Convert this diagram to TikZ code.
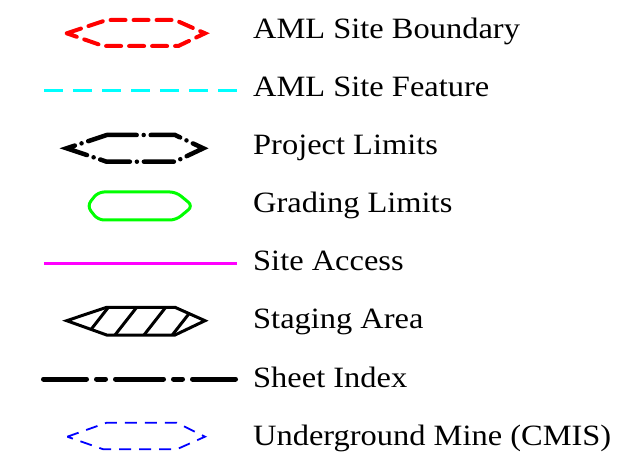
\documentclass[tikz,border=0pt]{standalone}
\usepackage{fontspec}
\setmainfont{Liberation Serif}[FakeStretch=1.1]
\begin{document}
\begin{tikzpicture}[x=1pt,y=-1pt,
  lbl/.style={anchor=base west, inner sep=0pt, font=\fontsize{29.5}{30}\selectfont},
  redb/.style={draw={rgb,255:red,255;green,0;blue,0}, line width=4pt, dash pattern=on 15pt off 8pt, line cap=round},
  cyanl/.style={draw={rgb,255:red,0;green,255;blue,255}, line width=2.5pt, dash pattern=on 19pt off 10pt},
  projl/.style={draw=black, line width=4.5pt, line cap=round, dash pattern=on 30pt off 7pt on 0pt off 7pt},
  gradl/.style={draw={rgb,255:red,0;green,255;blue,0}, line width=3pt, rounded corners=6pt},
  accl/.style={draw={rgb,255:red,255;green,0;blue,255}, line width=3.5pt},
  stagel/.style={draw=black, line width=3pt, line join=miter},
  sheetl/.style={draw=black, line width=5pt, line cap=round, dash pattern=on 43pt off 10pt on 9pt off 10pt on 48pt off 10pt on 9pt off 10pt},
  minel/.style={draw={rgb,255:red,0;green,0;blue,255}, line width=1.8pt, dash pattern=on 12pt off 8pt}]
\useasboundingbox (0,0) rectangle (624,473);
% row 1: AML Site Boundary
\draw[redb] (66.7,33.3) -- (106.7,20) -- (175,20) -- (205,33.3) -- (178.3,46) -- (103.3,46) -- cycle;
\node[lbl] (t1) at (253,38.3) {AML Site Boundary};
% row 2: AML Site Feature
\coordinate (c2a) at (44,90.7);
\coordinate (c2b) at (237,90.7);
\draw[cyanl] (c2a) -- (c2b);
\node[lbl] (t2) at (253,96.4) {AML Site Feature};
% row 3: Project Limits
\draw[projl] (106.7,135) -- (175,135) -- (203.3,148.3) -- (175,161.7) -- (106.7,161.7) -- (66.7,148.3) -- cycle;
\node[lbl] (t3) at (253,154.5) {Project Limits};
% row 4: Grading Limits
\draw[gradl] (87,206) -- (98,192) -- (176,192) -- (193,206) -- (176,220) -- (98,220) -- cycle;
\node[lbl] (t4) at (253,212.6) {Grading Limits};
% row 5: Site Access
\coordinate (c5a) at (44,263.3);
\coordinate (c5b) at (237,263.3);
\draw[accl] (c5a) -- (c5b);
\node[lbl] (t5) at (253,270.7) {Site Access};
% row 6: Staging Area
\begin{scope}
\clip (66.7,320.7) -- (106.7,307.3) -- (175,307.3) -- (205,320.7) -- (175,335) -- (106.7,335) -- cycle;
\foreach \xb in {86.7,115,144,172.3} {
  \draw[black, line width=3pt] (\xb,335) -- ++(21.7,-27.7);
}
\end{scope}
\draw[stagel] (66.7,320.7) -- (106.7,307.3) -- (175,307.3) -- (205,320.7) -- (175,335) -- (106.7,335) -- cycle;
\node[lbl] (t6) at (253,328.8) {Staging Area};
% row 7: Sheet Index
\coordinate (c7a) at (43.5,379);
\coordinate (c7b) at (238,379);
\draw[sheetl] (c7a) -- (c7b);
\node[lbl] (t7) at (253,387) {Sheet Index};
% row 8: Underground Mine (CMIS)
\draw[minel] (67.3,436.7) -- (106.7,422.7) -- (176.7,422.7) -- (205,436.7) -- (176.7,449.3) -- (103.3,449.3) -- cycle;
\node[lbl] (t8) at (253,445) {Underground Mine (CMIS)};
\end{tikzpicture}
\end{document}
